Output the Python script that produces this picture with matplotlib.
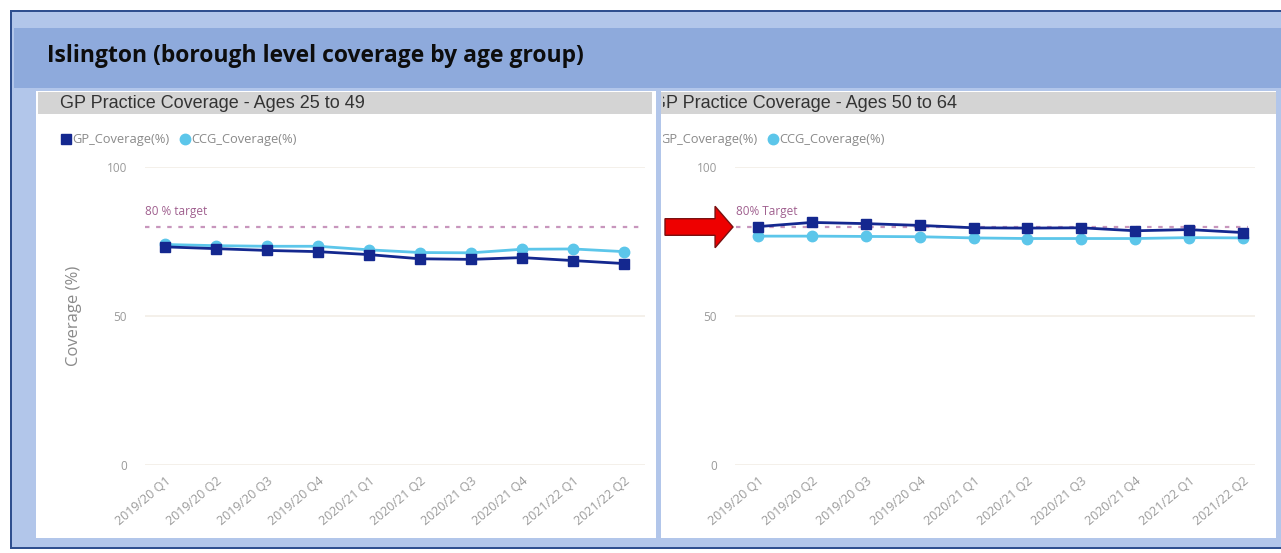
import matplotlib.pyplot as plt
from matplotlib.patches import Rectangle, FancyArrow
from matplotlib.transforms import Bbox, TransformedBbox

W, H = 1281, 553

quarters = ['2019/20 Q1', '2019/20 Q2', '2019/20 Q3', '2019/20 Q4', '2020/21 Q1',
            '2020/21 Q2', '2020/21 Q3', '2020/21 Q4', '2021/22 Q1', '2021/22 Q2']

gp_25_49 = [73.2, 72.6, 72.0, 71.6, 70.6, 69.2, 69.0, 69.6, 68.6, 67.6]
ccg_25_49 = [74.0, 73.6, 73.4, 73.4, 72.2, 71.3, 71.2, 72.4, 72.5, 71.6]

gp_50_64 = [80.0, 81.4, 81.0, 80.4, 79.6, 79.5, 79.6, 78.6, 79.0, 78.0]
ccg_50_64 = [76.8, 76.8, 76.7, 76.6, 76.2, 76.0, 76.0, 76.0, 76.3, 76.2]

target = 80

GP_COL = '#14288f'
CCG_COL = '#5cc6ea'
TARGET_COL = '#c896bd'


def fx(px):
    return px / W


def fy(py):
    return 1 - py / H


def rect(fig, x0, y0, x1, y1, color, z=0):
    fig.add_artist(Rectangle((fx(x0), fy(y1)), fx(x1) - fx(x0), fy(y0) - fy(y1),
                             transform=fig.transFigure, facecolor=color,
                             edgecolor='none', zorder=z))


def clip_to(fig, artist, x0, y0, x1, y1):
    bb = TransformedBbox(Bbox([[fx(x0), fy(y1)], [fx(x1), fy(y0)]]), fig.transFigure)
    artist.set_clip_on(True)
    artist.set_clip_box(bb)


fig = plt.figure(figsize=(W / 100, H / 100), dpi=100)
fig.patch.set_facecolor('white')

# frame and header
rect(fig, 10, 10, W, 549, '#2f4f8f', z=-5)
rect(fig, 12, 12, W, 547, '#b2c6ea', z=-4)
rect(fig, 14, 28, W, 88, '#8eaadc', z=-3)
fig.text(fx(47), fy(56), 'Islington (borough level coverage by age group)',
         fontsize=16.5, fontweight='bold', family='Open Sans', color='#0d0d0d',
         va='center', ha='left')

# panel backgrounds and title bars
rect(fig, 36, 91, 656, 538, 'white', z=-2)
rect(fig, 661, 91, 1276, 538, 'white', z=-2)
rect(fig, 38, 92, 652, 114, '#d4d4d4', z=-1)
rect(fig, 661, 92, 1276, 114, '#d4d4d4', z=-1)

fig.text(fx(60), fy(103), 'GP Practice Coverage - Ages 25 to 49', fontsize=13,
         family='Liberation Sans', color='#333333', va='center', ha='left')
t = fig.text(fx(652), fy(103), 'GP Practice Coverage - Ages 50 to 64', fontsize=13,
             family='Liberation Sans', color='#333333', va='center', ha='left')
clip_to(fig, t, 663, 90, W, 116)

panels = [
    dict(gp=gp_25_49, ccg=ccg_25_49, ax=(145, 167, 645, 465), first=165, last=624,
         tlabel='80 % target', legend_x=71, ylab=True, line=(-0.4, 9.3)),
    dict(gp=gp_50_64, ccg=ccg_50_64, ax=(735, 167, 1255, 465), first=758, last=1243,
         tlabel='80% Target', legend_x=659, ylab=False, line=(-0.4, 9.1)),
]

for p in panels:
    x0, y0, x1, y1 = p['ax']
    ax = fig.add_axes([fx(x0), fy(y1), fx(x1) - fx(x0), fy(y0) - fy(y1)])
    ax.set_facecolor('none')
    step = (p['last'] - p['first']) / 9
    ax.set_xlim(-(p['first'] - x0) / step, 9 + (x1 - p['last']) / step)
    ax.set_ylim(0, 100)
    xs = range(len(quarters))

    ax.plot([p['line'][0], p['line'][1]], [target, target], color=TARGET_COL,
            lw=1.6, ls=(0, (2, 3)), zorder=1)
    ax.text(p['line'][0], target + 3, p['tlabel'], color='#a0608f', fontsize=8.5,
            family='Open Sans', va='bottom', ha='left')

    ax.plot(xs, p['ccg'], color=CCG_COL, lw=2, marker='o', ms=7.5, zorder=3)
    ax.plot(xs, p['gp'], color=GP_COL, lw=2, marker='s', ms=7.5, zorder=4)

    ax.set_yticks([0, 50, 100])
    ax.set_xticks(list(xs))
    ax.set_xticklabels(quarters, rotation=40, ha='right', rotation_mode='anchor',
                       fontsize=9, color='#9a9a9a', family='Open Sans')
    ax.tick_params(axis='x', length=0, pad=7)
    ax.tick_params(axis='y', length=0, pad=13, labelsize=8.5, labelcolor='#9a9a9a')
    for lbl in ax.get_yticklabels():
        lbl.set_family('Open Sans')
    ax.grid(axis='y', color='#f2eee6', lw=1.2)
    for s in ax.spines.values():
        s.set_visible(False)
    if p['ylab']:
        ax.set_ylabel('Coverage (%)', fontsize=12, color='#8a8a8a',
                      family='Open Sans', labelpad=18)

    # legend
    lx = p['legend_x']
    ly = fy(139)
    m1 = fig.add_artist(plt.Line2D([fx(lx - 5)], [ly], marker='s', ms=7, color=GP_COL,
                                   ls='none', transform=fig.transFigure))
    t1 = fig.text(fx(lx + 1), ly, 'GP_Coverage(%)', fontsize=9.3, color='#8a8a8a',
                  family='Open Sans', va='center', ha='left')
    m2 = fig.add_artist(plt.Line2D([fx(lx + 114)], [ly], marker='o', ms=7.5,
                                   color=CCG_COL, ls='none', transform=fig.transFigure))
    t2 = fig.text(fx(lx + 120), ly, 'CCG_Coverage(%)', fontsize=9.3, color='#8a8a8a',
                  family='Open Sans', va='center', ha='left')
    if not p['ylab']:
        for a in (m1, t1):
            clip_to(fig, a, 663, 120, W, 160)

# red arrow pointing at the 50-64 target line
fig.add_artist(FancyArrow(fx(665), fy(227), fx(733) - fx(665), 0, width=0.03,
                          head_width=0.075, head_length=0.014,
                          length_includes_head=True, transform=fig.transFigure,
                          facecolor='#ee0000', edgecolor='#7a1010', lw=1, zorder=10))

fig.savefig('out.png', dpi=100)
